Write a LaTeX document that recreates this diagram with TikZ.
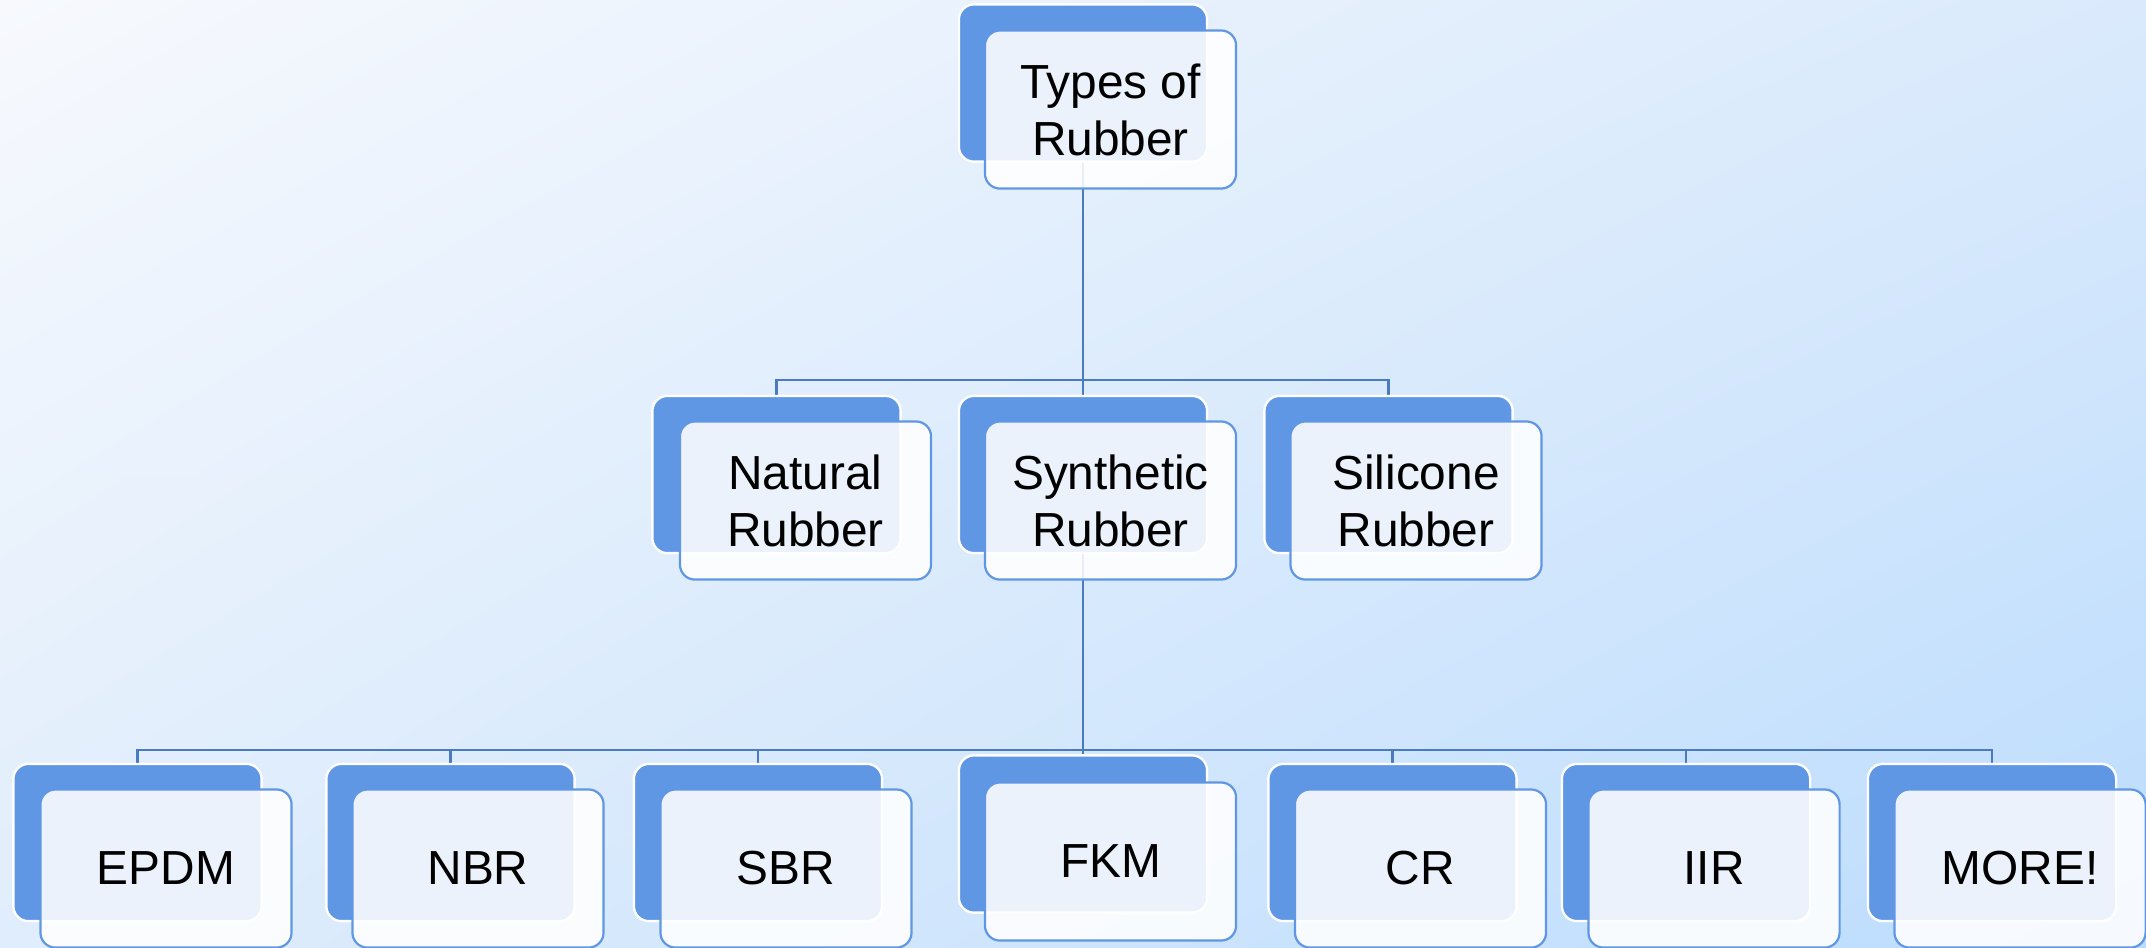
\documentclass[tikz,border=0pt]{standalone}
\usepackage{fontspec}
\setmainfont{Liberation Sans}
\usetikzlibrary{shadings}
\definecolor{bgTL}{HTML}{F7F9FD}
\definecolor{bgTR}{HTML}{DAEAFC}
\definecolor{bgBL}{HTML}{E0EDFC}
\definecolor{bgBR}{HTML}{BBDCFD}
\definecolor{boxblue}{HTML}{6097E4}
\definecolor{linkblue}{HTML}{4A7AC0}
\begin{document}
\begin{tikzpicture}[x=0.01cm,y=-0.01cm,
  backbox/.style={draw=white, line width=0.022cm, fill=boxblue, rounded corners=0.15cm,
    minimum width=2.48cm, minimum height=1.57cm, inner sep=0pt},
  frontbox/.style={draw=boxblue, line width=0.022cm, fill=white, fill opacity=0.88, text opacity=1,
    rounded corners=0.15cm, minimum width=2.51cm, minimum height=1.58cm, inner sep=0pt,
    align=center, font=\fontsize{13.6}{16.2}\selectfont},
  link/.style={draw=linkblue, line width=0.028cm}]
\useasboundingbox (0,0) rectangle (2146,947);
\shade[upper left=bgTL, upper right=bgTR, lower left=bgBL, lower right=bgBR] (0,0) rectangle (2146,947);

% back boxes (named, for anchors)
\node[backbox] (top) at (1083,83) {};
\node[backbox] (nat) at (776.5,474.5) {};
\node[backbox] (syn) at (1083,474.5) {};
\node[backbox] (sil) at (1388.5,474.5) {};
\node[backbox] (epdm) at (137.5,842.5) {};
\node[backbox] (nbr) at (450.5,842.5) {};
\node[backbox] (sbr) at (758,842.5) {};
\node[backbox] (fkm) at (1083,834) {};
\node[backbox] (cr) at (1392.5,842.5) {};
\node[backbox] (iir) at (1686,842.5) {};
\node[backbox] (more) at (1992,842.5) {};

% connectors
\coordinate (j1) at (1083,380);
\coordinate (j2) at (1083,750);
\path[link] (top.south) -- (j1);
\path[link] (j1) -| (nat.north);
\path[link] (j1) -| (sil.north);
\path[link] (j1) -- (syn.north);
\path[link] (syn.south) -- (fkm.north);
\path[link] (j2) -| (epdm.north);
\path[link] (j2) -| (nbr.north);
\path[link] (j2) -| (sbr.north);
\path[link] (j2) -| (cr.north);
\path[link] (j2) -| (iir.north);
\path[link] (j2) -| (more.north);

% redraw back boxes over connector ends
\foreach \x/\y in {1083/83, 776.5/474.5, 1083/474.5, 1388.5/474.5,
  137.5/842.5, 450.5/842.5, 758/842.5, 1083/834, 1392.5/842.5,
  1686/842.5, 1992/842.5}
  \node[backbox] at (\x,\y) {};

% front boxes
\node[frontbox] (topf) at (1110.5,109.5) {Types of\\Rubber};
\node[frontbox] (natf) at (805.5,500.5) {Natural\\Rubber};
\node[frontbox] (synf) at (1110.5,500.5) {Synthetic\\Rubber};
\node[frontbox] (silf) at (1416,500.5) {Silicone\\Rubber};
\node[frontbox] (epdmf) at (166,868.5) {EPDM};
\node[frontbox] (nbrf) at (478,868.5) {NBR};
\node[frontbox] (sbrf) at (786,868.5) {SBR};
\node[frontbox] (fkmf) at (1110.5,861.5) {FKM};
\node[frontbox] (crf) at (1420.5,868.5) {CR};
\node[frontbox] (iirf) at (1714,868.5) {IIR};
\node[frontbox] (moref) at (2020,868.5) {MORE!};
\end{tikzpicture}
\end{document}
